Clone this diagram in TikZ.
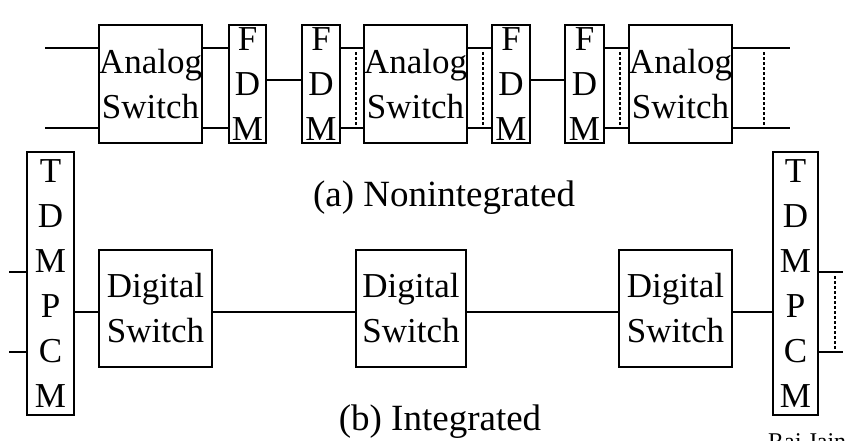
\documentclass[tikz,border=0pt]{standalone}
\usepackage{fontspec}
\setmainfont{Liberation Serif}
\begin{document}
\begin{tikzpicture}[x=1pt,y=-1pt,
  box/.style={draw, line width=1.5pt, inner sep=0pt, align=center, font=\fontsize{35}{45}\selectfont},
  wire/.style={line width=1.5pt},
  dots/.style={line width=1.4pt, dash pattern=on 2.5pt off 2.5pt},
  caption/.style={anchor=base, inner sep=0pt, font=\fontsize{37}{44}\selectfont}]
\useasboundingbox (0,0) rectangle (853,440);
\clip (0,0) rectangle (853,440);
% (a) nonintegrated
\node[box, minimum width=103pt, minimum height=118pt] (A1) at (150.5,84) {Analog\\Switch};
\node[box, minimum width=37pt, minimum height=118pt] (F1) at (247.5,84) {F\\D\\M};
\node[box, minimum width=38pt, minimum height=118pt] (F2) at (321,84) {F\\D\\M};
\node[box, minimum width=101pt, minimum height=118pt] (A2) at (415.5,84) {Analog\\Switch};
\node[box, minimum width=38pt, minimum height=118pt] (F3) at (511,84) {F\\D\\M};
\node[box, minimum width=39pt, minimum height=118pt] (F4) at (584.5,84) {F\\D\\M};
\node[box, minimum width=103pt, minimum height=118pt] (A3) at (680.5,84) {Analog\\Switch};
\coordinate (inA1) at (45,48);
\coordinate (inA2) at (45,128);
\coordinate (outA1) at (790,48);
\coordinate (outA2) at (790,128);
\draw[wire] (inA1) -- (A1.west |- inA1);
\draw[wire] (inA2) -- (A1.west |- inA2);
\draw[wire] (A1.east |- inA1) -- (F1.west |- inA1);
\draw[wire] (A1.east |- inA2) -- (F1.west |- inA2);
\draw[wire] (F1.east |- 0,80) -- (F2.west |- 0,80);
\draw[wire] (F2.east |- inA1) -- (A2.west |- inA1);
\draw[wire] (F2.east |- inA2) -- (A2.west |- inA2);
\draw[wire] (A2.east |- inA1) -- (F3.west |- inA1);
\draw[wire] (A2.east |- inA2) -- (F3.west |- inA2);
\draw[wire] (F3.east |- 0,80) -- (F4.west |- 0,80);
\draw[wire] (F4.east |- inA1) -- (A3.west |- inA1);
\draw[wire] (F4.east |- inA2) -- (A3.west |- inA2);
\draw[wire] (A3.east |- outA1) -- (outA1);
\draw[wire] (A3.east |- outA2) -- (outA2);
\draw[dots] (356,52) -- (356,127);
\draw[dots] (483,52) -- (483,127);
\draw[dots] (620,52) -- (620,127);
\draw[dots] (764,52) -- (764,127);
\node[caption] (capA) at (444,206) {(a) Nonintegrated};
% (b) integrated
\node[box, minimum width=47pt, minimum height=263pt] (T1) at (50.5,283.5) {T\\D\\M\\P\\C\\M};
\node[box, minimum width=113pt, minimum height=117pt] (D1) at (155.5,308.5) {Digital\\Switch};
\node[box, minimum width=110pt, minimum height=117pt] (D2) at (411,308.5) {Digital\\Switch};
\node[box, minimum width=113pt, minimum height=117pt] (D3) at (675.5,308.5) {Digital\\Switch};
\node[box, minimum width=45pt, minimum height=263pt] (T2) at (795.5,283.5) {T\\D\\M\\P\\C\\M};
\coordinate (inB1) at (9,272);
\coordinate (inB2) at (9,352);
\coordinate (outB1) at (843,272);
\coordinate (outB2) at (843,352);
\draw[wire] (inB1) -- (T1.west |- inB1);
\draw[wire] (inB2) -- (T1.west |- inB2);
\draw[wire] (T1.east |- 0,312) -- (D1.west |- 0,312);
\draw[wire] (D1.east |- 0,312) -- (D2.west |- 0,312);
\draw[wire] (D2.east |- 0,312) -- (D3.west |- 0,312);
\draw[wire] (D3.east |- 0,312) -- (T2.west |- 0,312);
\draw[wire] (T2.east |- outB1) -- (outB1);
\draw[wire] (T2.east |- outB2) -- (outB2);
\draw[dots] (835,276) -- (835,350);
\node[caption] (capB) at (440,430) {(b) Integrated};
\node[anchor=base west, inner sep=0pt, font=\fontsize{24}{28}\selectfont] (author) at (768,449) {Raj Jain};
\end{tikzpicture}
\end{document}
